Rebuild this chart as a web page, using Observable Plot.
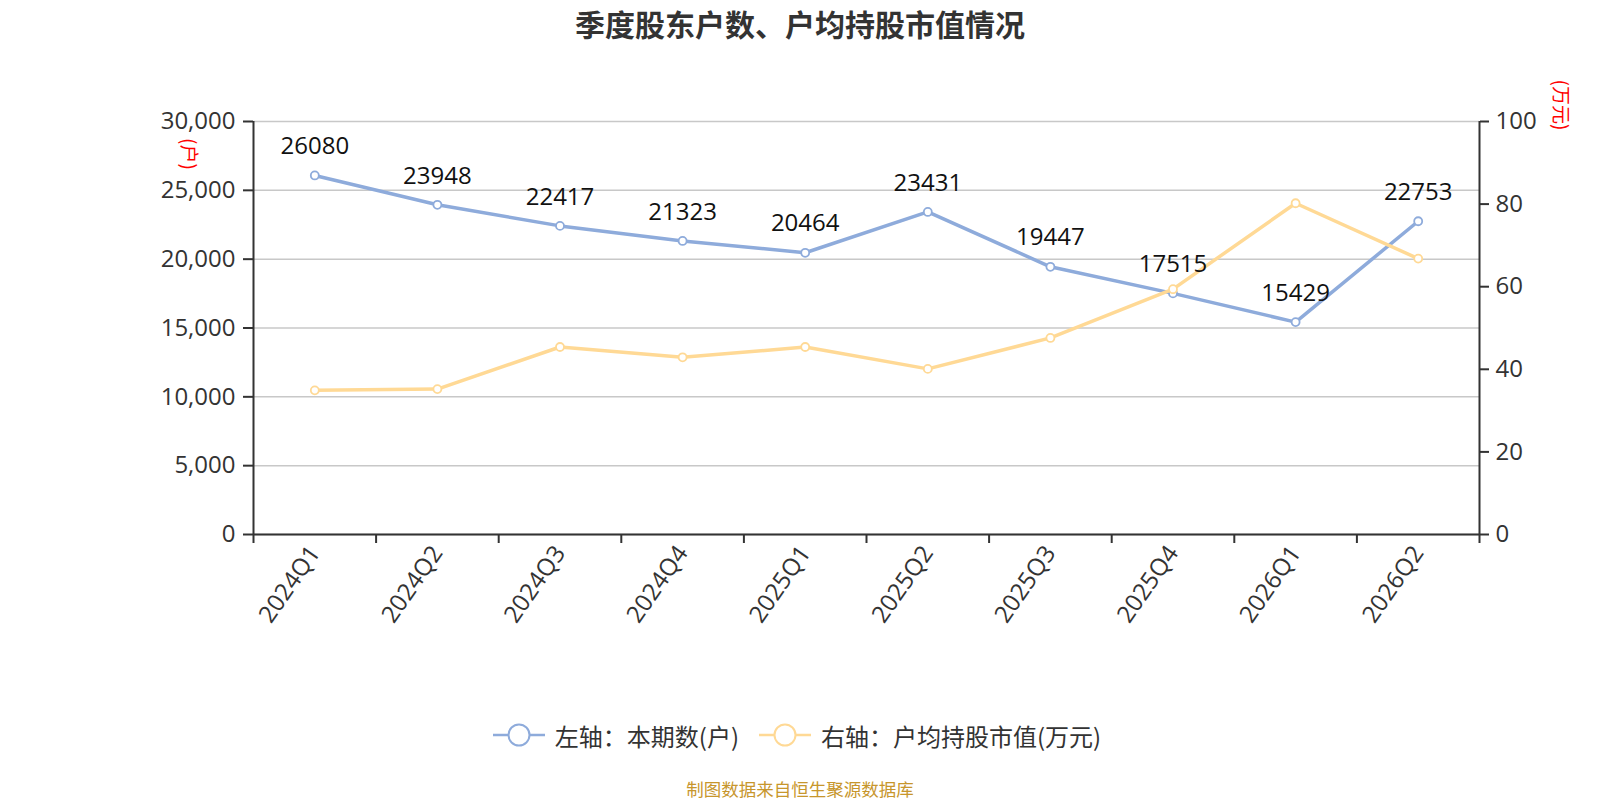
<!DOCTYPE html>
<html>
<head>
<meta charset="utf-8">
<script src="https://cdn.jsdelivr.net/npm/d3@7"></script>
<script src="https://cdn.jsdelivr.net/npm/@observablehq/plot@0.6"></script>
<style>
  html, body { margin: 0; padding: 0; background: #fff; }
  #wrap { position: relative; width: 1600px; height: 800px; overflow: hidden; font-family: "Noto Sans CJK SC", "Open Sans", sans-serif; }
  #chart { position: absolute; left: 0; top: 0; }
  #title { position: absolute; left: 0; top: 0; width: 1600px; height: 46px; line-height: 46px; text-align: center; font-size: 30px; font-weight: bold; color: #333; }
  .unit { position: absolute; color: #ff0000; font-size: 19px; white-space: nowrap; transform: translate(-50%, -50%) rotate(90deg); line-height: 1; }
  #legend { position: absolute; left: 0; width: 1600px; top: 716px; height: 38px; display: flex; justify-content: center; align-items: center; font-size: 24px; color: #333; }
  .item { display: flex; align-items: center; margin: 0 6px; }
  .item svg { margin-right: 10px; }
  #caption { position: absolute; left: 0; width: 1600px; top: 778px; height: 22px; line-height: 22px; text-align: center; font-size: 17.5px; color: #c7962c; }
</style>
</head>
<body>
<div id="wrap">
  <div id="chart"></div>
  <div id="title">季度股东户数、户均持股市值情况</div>
  <div class="unit" style="left:190px; top:154px;">(户)</div>
  <div class="unit" style="left:1562px; top:105px;">(万元)</div>
  <div id="legend"></div>
  <div id="caption">制图数据来自恒生聚源数据库</div>
</div>
<script>
// ---- data ----
const quarters = ["2024Q1","2024Q2","2024Q3","2024Q4","2025Q1","2025Q2","2025Q3","2025Q4","2026Q1","2026Q2"];
const holders = [26080, 23948, 22417, 21323, 20464, 23431, 19447, 17515, 15429, 22753];      // 左轴：本期数(户)
const avgValue = [34.9, 35.2, 45.4, 42.9, 45.4, 40.1, 47.6, 59.4, 80.2, 66.8];                // 右轴：户均持股市值(万元)
const leftTicks = [0, 5000, 10000, 15000, 20000, 25000, 30000];
const rightTicks = [0, 20, 40, 60, 80, 100];
const leftMax = 30000, rightMax = 100;
const seriesNames = ["左轴：本期数(户)", "右轴：户均持股市值(万元)"];
const colors = ["#8eabdb", "#ffd995"];

const ratio = leftMax / rightMax;
const rows = quarters.map((q, i) => ({i, q, holders: holders[i], avg: avgValue[i], avgScaled: avgValue[i] * ratio}));
const boundaries = quarters.map((q, i) => i - 0.5).concat([quarters.length - 0.5]);

const font = "'Open Sans', 'Noto Sans CJK SC', sans-serif";

const chart = Plot.plot({
  width: 1600,
  height: 700,
  marginLeft: 253,
  marginRight: 121,
  marginTop: 121,
  marginBottom: 166,
  style: {fontFamily: font, background: "transparent", overflow: "visible"},
  x: {type: "linear", domain: [-0.5, quarters.length - 0.5]},
  y: {domain: [0, leftMax]},
  marks: [
    Plot.gridY(leftTicks, {stroke: "#c8c8c8", strokeOpacity: 1, strokeWidth: 1.5}),
    Plot.axisY(leftTicks, {anchor: "left", tickFormat: d3.format(","), tickSize: 10, tickPadding: 8, fontSize: 24, stroke: "#333", strokeWidth: 2, fill: "#333", label: null}),
    Plot.axisY(rightTicks.map(v => v * ratio), {anchor: "right", tickFormat: d => d / ratio, tickSize: 9, tickPadding: 7, fontSize: 24, stroke: "#333", strokeWidth: 2, fill: "#333", label: null}),
    Plot.axisX(boundaries, {anchor: "bottom", tickSize: 9, tickFormat: () => "", stroke: "#333", strokeWidth: 2, label: null}),
    Plot.axisX(quarters.map((q, i) => i), {anchor: "bottom", tickSize: 0, tickPadding: 14, tickRotate: -55, tickFormat: i => quarters[i], fontSize: 24, fill: "#333", label: null}),
    Plot.ruleX([-0.5, quarters.length - 0.5], {stroke: "#333", strokeWidth: 2}),
    Plot.ruleY([0], {stroke: "#333", strokeWidth: 2}),
    Plot.line(rows, {x: "i", y: "holders", stroke: colors[0], strokeWidth: 3.5}),
    Plot.dot(rows, {x: "i", y: "holders", r: 4, fill: "#fff", stroke: colors[0], strokeWidth: 1.8}),
    Plot.line(rows, {x: "i", y: "avgScaled", stroke: colors[1], strokeWidth: 3.5}),
    Plot.dot(rows, {x: "i", y: "avgScaled", r: 4, fill: "#fff", stroke: colors[1], strokeWidth: 1.8}),
    Plot.text(rows, {x: "i", y: "holders", text: d => String(d.holders), dy: -29, fontSize: 24, fill: "#111", fontFamily: font})
  ]
});
document.getElementById("chart").appendChild(chart);

// legend
const legend = document.getElementById("legend");
seriesNames.forEach((name, k) => {
  const item = document.createElement("div");
  item.className = "item";
  item.style.marginLeft = k === 0 ? "0px" : "14px";
  item.innerHTML = `<svg width="52" height="26" viewBox="0 0 52 26"><line x1="0" y1="13" x2="52" y2="13" stroke="${colors[k]}" stroke-width="2.5"/><circle cx="26" cy="13" r="10.5" fill="#fff" stroke="${colors[k]}" stroke-width="2"/></svg><span>${name}</span>`;
  legend.appendChild(item);
});
</script>
</body>
</html>
